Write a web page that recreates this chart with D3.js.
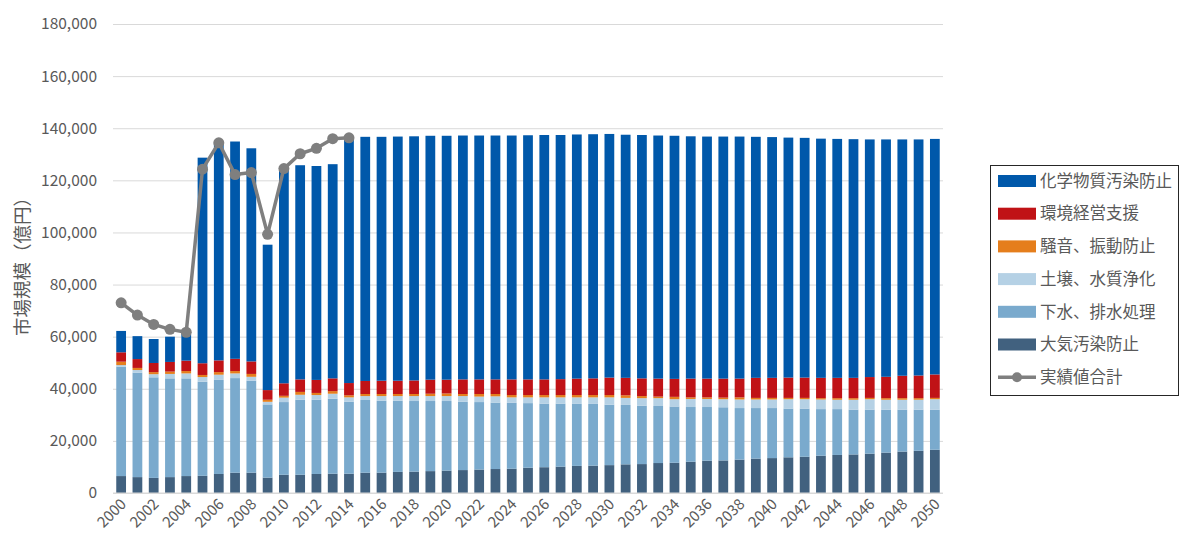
<!DOCTYPE html>
<html>
<head>
<meta charset="utf-8">
<script src="https://cdn.jsdelivr.net/npm/d3@7"></script>
<style>
  body { margin: 0; background: #fff; }
  text { font-family: "Noto Sans CJK JP", "Noto Sans", sans-serif; fill: #595959; }
</style>
</head>
<body>
<div id="chart"></div>
<script>
(function() {

  // values in 1,000 億円 units
  var years = d3.range(2000, 2051);

  var taiki = [6.5, 6.1, 5.8, 6.1, 6.5, 6.6, 7.3, 7.8, 7.8, 5.9, 7.0, 7.0, 7.3, 7.4, 7.4,
    7.8, 7.8, 8.1, 8.2, 8.4, 8.6, 8.8, 9.0, 9.2, 9.3, 9.7, 9.9, 10.1, 10.4, 10.5, 10.7,
    11.0, 11.1, 11.5, 11.6, 12.0, 12.4, 12.5, 12.8, 13.2, 13.4, 13.7, 13.9, 14.3, 14.6,
    14.8, 15.1, 15.5, 15.9, 16.2, 16.6];
  var gesui = [42.0, 40.1, 38.6, 37.9, 37.5, 36.1, 36.1, 36.3, 35.3, 28.1, 27.9, 28.8, 28.5, 28.8, 27.6,
    27.9, 27.6, 27.3, 27.1, 26.9, 26.7, 26.2, 25.9, 25.5, 25.3, 24.8, 24.4, 24.2, 23.8, 23.7, 23.2,
    22.8, 22.4, 21.9, 21.6, 21.0, 20.6, 20.4, 19.8, 19.4, 19.2, 18.7, 18.5, 17.9, 17.6,
    17.2, 16.9, 16.5, 16.1, 15.8, 15.4];
  var dojo = [0.6, 1.0, 1.2, 1.7, 1.9, 1.8, 2.0, 1.8, 1.5, 1.0, 1.7, 1.9, 1.8, 1.9, 1.7,
    1.5, 1.8, 1.8, 1.9, 1.9, 1.9, 2.2, 2.1, 2.4, 2.1, 2.2, 2.4, 2.4, 2.5, 2.5, 2.8,
    2.7, 2.9, 3.0, 2.8, 3.1, 3.1, 3.1, 3.3, 3.3, 3.3, 3.6, 3.6, 3.7, 3.6,
    3.8, 4.0, 3.8, 3.8, 3.8, 4.0];
  var soon = [1.3, 0.8, 0.8, 0.9, 0.9, 0.8, 1.0, 0.9, 1.1, 0.8, 0.7, 1.1, 0.8, 1.0, 0.8,
    0.8, 0.8, 0.8, 0.8, 0.9, 1.0, 0.8, 1.0, 0.9, 0.9, 0.9, 0.9, 0.9, 0.9, 0.9, 0.9,
    1.0, 0.8, 0.6, 0.9, 0.6, 0.6, 0.6, 0.8, 0.6, 0.6, 0.5, 0.5, 0.5, 0.6,
    0.6, 0.5, 0.6, 0.6, 0.6, 0.5];
  var keiei = [3.6, 3.4, 3.5, 3.7, 4.0, 4.5, 4.5, 4.7, 4.8, 3.7, 4.8, 4.8, 5.0, 4.9, 4.7,
    5.0, 5.1, 5.1, 5.2, 5.4, 5.3, 5.6, 5.6, 5.6, 6.0, 6.0, 6.0, 6.1, 6.3, 6.4, 6.7,
    6.7, 6.8, 6.9, 6.9, 7.2, 7.2, 7.3, 7.2, 7.7, 7.7, 7.8, 7.8, 7.8, 7.8,
    7.8, 8.0, 8.2, 8.6, 8.7, 9.0];
  var kagaku = [8.2, 8.8, 9.2, 9.7, 10.2, 78.9, 83.4, 83.4, 81.8, 55.8, 83.0, 82.2, 82.1, 82.2, 94.2,
    93.7, 93.6, 93.7, 93.7, 93.6, 93.6, 93.6, 93.6, 93.6, 93.6, 93.7, 93.8, 93.7, 93.7, 93.7, 93.5,
    93.3, 93.4, 93.3, 93.3, 93.0, 92.9, 92.9, 92.9, 92.5, 92.4, 92.1, 92.0, 91.8, 91.7,
    91.6, 91.2, 91.1, 90.7, 90.6, 90.4];

  var jissekiYears = d3.range(2000, 2015);
  var jisseki = [73.0, 68.3, 64.7, 62.8, 61.7, 124.3, 134.4, 122.2, 123.0, 99.3, 124.5, 130.2, 132.3, 136.0, 136.3];

  var seriesNames = ["大気汚染防止", "下水、排水処理", "土壌、水質浄化", "騒音、振動防止", "環境経営支援", "化学物質汚染防止"];
  var seriesValues = [taiki, gesui, dojo, soon, keiei, kagaku];
  var seriesColors = ["#41617f", "#7aaacd", "#b5d1e5", "#e57e1c", "#c01216", "#0058aa"];

  var yTicks = d3.range(0, 180001, 20000);

  var width = 1180, height = 540;
  var margin = { top: 24, left: 113, right: 237, bottom: 47 };
  var plotW = width - margin.left - margin.right,
      plotH = height - margin.top - margin.bottom;

  var svg = d3.select("#chart")
        .append("svg")
        .attr("width", width)
        .attr("height", height);

  var g = svg.append("g")
        .attr("transform", "translate(" + margin.left + "," + margin.top + ")");

  var x = d3.scaleBand().domain(years).range([0, plotW]).paddingInner(0.4).paddingOuter(0.2);
  var y = d3.scaleLinear().domain([0, 180000]).range([plotH, 0]);

  // grid + y labels
  var yAxis = d3.axisLeft(y).tickValues(yTicks).tickSize(-plotW).tickPadding(16)
        .tickFormat(d3.format(","));
  g.append("g").call(yAxis)
    .call(function(s) {
      s.select(".domain").remove();
      s.selectAll(".tick line").attr("stroke", "#d9d9d9").attr("stroke-width", 1);
      s.selectAll(".tick text").style("font-size", "15.5px").attr("fill", "#595959");
    });

  // stacked bars
  var table = years.map(function(yr, i) {
    var row = { year: yr };
    seriesNames.forEach(function(n, k) { row[n] = seriesValues[k][i] * 1000; });
    return row;
  });
  var stacked = d3.stack().keys(seriesNames)(table);

  g.selectAll("g.layer")
    .data(stacked)
    .enter().append("g")
    .attr("class", "layer")
    .attr("fill", function(d, k) { return seriesColors[k]; })
    .selectAll("rect")
    .data(function(d) { return d; })
    .enter().append("rect")
    .attr("x", function(d) { return x(d.data.year); })
    .attr("width", x.bandwidth())
    .attr("y", function(d) { return y(d[1]); })
    .attr("height", function(d) { return y(d[0]) - y(d[1]); });

  // x baseline
  g.append("line")
    .attr("x1", 0).attr("x2", plotW)
    .attr("y1", plotH).attr("y2", plotH)
    .attr("stroke", "#d9d9d9");

  // x labels, every other year
  g.selectAll("text.xl")
    .data(years.filter(function(d) { return d % 2 === 0; }))
    .enter().append("text")
    .attr("class", "xl")
    .attr("text-anchor", "end")
    .attr("transform", function(d) {
      return "translate(" + (x(d) + x.bandwidth() / 2 + 6) + "," + (plotH + 12) + ") rotate(-45)";
    })
    .style("font-size", "15px")
    .text(function(d) { return d; });

  // actual total line
  var cx = function(d, i) { return x(jissekiYears[i]) + x.bandwidth() / 2; };
  var line = d3.line()
    .x(function(d, i) { return cx(d, i); })
    .y(function(d) { return y(d * 1000); });

  g.append("path")
    .datum(jisseki)
    .attr("d", line)
    .attr("fill", "none")
    .attr("stroke", "#7f7f7f")
    .attr("stroke-width", 3.5)
    .attr("stroke-linejoin", "round");

  g.selectAll("circle.pt")
    .data(jisseki)
    .enter().append("circle")
    .attr("class", "pt")
    .attr("cx", cx)
    .attr("cy", function(d) { return y(d * 1000); })
    .attr("r", 5.5)
    .attr("fill", "#7f7f7f");

  // y title
  svg.append("text")
    .attr("transform", "translate(29,262) rotate(-90)")
    .attr("text-anchor", "middle")
    .style("font-size", "18.5px")
    .text("市場規模（億円）");

  // legend
  var lg = svg.append("g").attr("transform", "translate(990,165)");
  lg.append("rect")
    .attr("x", 0.5).attr("y", 0.5)
    .attr("width", 188).attr("height", 230)
    .attr("fill", "#fff")
    .attr("stroke", "#262626")
    .attr("stroke-width", 1);

  var legendItems = seriesNames.slice().reverse().map(function(n) {
    return { name: n, color: seriesColors[seriesNames.indexOf(n)], type: "bar" };
  });
  legendItems.push({ name: "実績値合計", color: "#7f7f7f", type: "line" });

  var li = lg.selectAll("g.li")
    .data(legendItems)
    .enter().append("g")
    .attr("class", "li")
    .attr("transform", function(d, i) { return "translate(8," + (16 + i * 32.7) + ")"; });

  li.filter(function(d) { return d.type === "bar"; })
    .append("rect")
    .attr("x", 0).attr("y", -6)
    .attr("width", 38).attr("height", 12)
    .attr("fill", function(d) { return d.color; });

  var ll = li.filter(function(d) { return d.type === "line"; });
  ll.append("line")
    .attr("x1", 0).attr("x2", 38).attr("y1", 0).attr("y2", 0)
    .attr("stroke", "#7f7f7f").attr("stroke-width", 3.5);
  ll.append("circle")
    .attr("cx", 19).attr("cy", 0).attr("r", 5)
    .attr("fill", "#7f7f7f");

  li.append("text")
    .attr("x", 42).attr("y", 0)
    .attr("dy", "0.35em")
    .style("font-size", "16.5px")
    .text(function(d) { return d.name; });

})();
</script>
</body>
</html>
